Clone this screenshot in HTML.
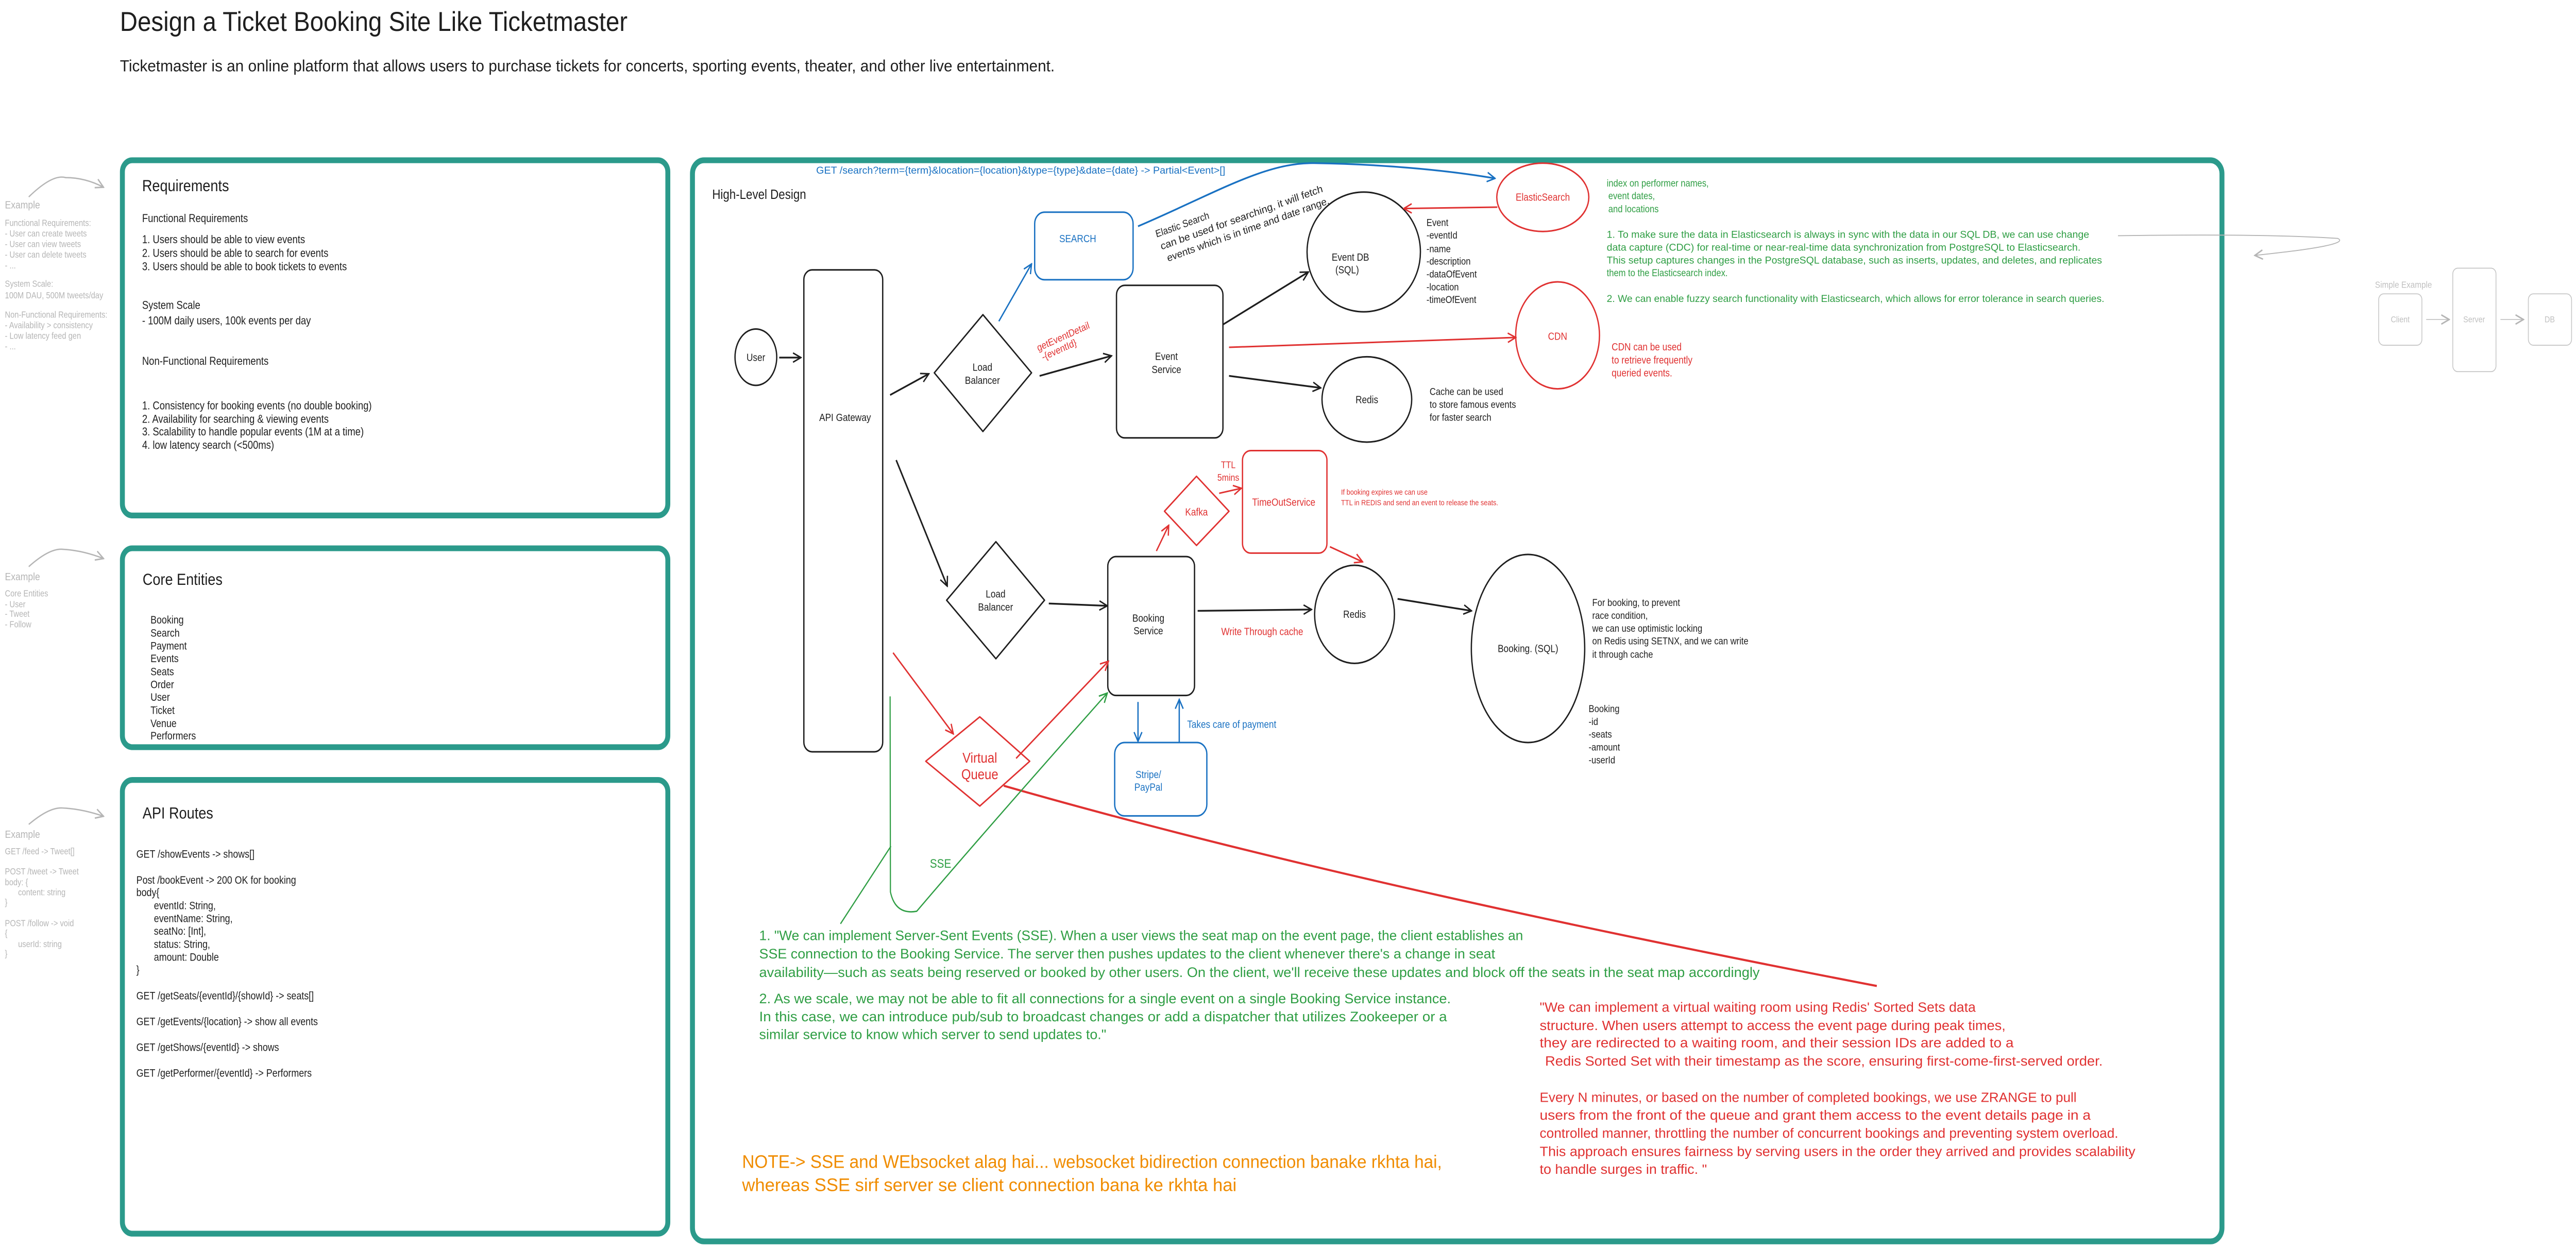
<!DOCTYPE html>
<html><head><meta charset="utf-8"><style>
html,body{margin:0;padding:0;background:#fff;width:100vw;height:100vh;overflow:hidden;}
svg{display:block;position:fixed;left:0;top:0;width:100vw;height:100vh;}
text{font-family:"Liberation Sans",sans-serif;}
</style></head><body>
<svg viewBox="0 0 1568 645.9" preserveAspectRatio="none" xmlns="http://www.w3.org/2000/svg">
<defs>
<marker id="ak" viewBox="0 0 10 10" refX="9" refY="5" markerWidth="6" markerHeight="6" orient="auto" markerUnits="userSpaceOnUse"><path d="M1,1 L9,5 L1,9" fill="none" stroke="#1e1e1e" stroke-width="1.3"/></marker>
<marker id="ar" viewBox="0 0 10 10" refX="9" refY="5" markerWidth="6" markerHeight="6" orient="auto" markerUnits="userSpaceOnUse"><path d="M1,1 L9,5 L1,9" fill="none" stroke="#e03131" stroke-width="1.3"/></marker>
<marker id="ab" viewBox="0 0 10 10" refX="9" refY="5" markerWidth="6" markerHeight="6" orient="auto" markerUnits="userSpaceOnUse"><path d="M1,1 L9,5 L1,9" fill="none" stroke="#1971c2" stroke-width="1.3"/></marker>
<marker id="ag" viewBox="0 0 10 10" refX="9" refY="5" markerWidth="6" markerHeight="6" orient="auto" markerUnits="userSpaceOnUse"><path d="M1,1 L9,5 L1,9" fill="none" stroke="#2f9e44" stroke-width="1.3"/></marker>
<marker id="ay" viewBox="0 0 10 10" refX="9" refY="5" markerWidth="6" markerHeight="6" orient="auto" markerUnits="userSpaceOnUse"><path d="M1,1 L9,5 L1,9" fill="none" stroke="#b5b5b5" stroke-width="1.3"/></marker>
</defs>

<text x="73" y="16" font-size="14" fill="#1e1e1e" textLength="309" lengthAdjust="spacingAndGlyphs">Design a Ticket Booking Site Like Ticketmaster</text>
<text x="73" y="37" font-size="8.5" fill="#1e1e1e" textLength="569" lengthAdjust="spacingAndGlyphs">Ticketmaster is an online platform that allows users to purchase tickets for concerts, sporting events, theater, and other live entertainment.</text>

<g fill="none" stroke="#2b9a8b" stroke-width="3">
<rect x="74.5" y="83" width="332" height="184" rx="6"/>
<rect x="74.5" y="284" width="332" height="103" rx="6"/>
<rect x="74.5" y="404" width="332" height="235" rx="6"/>
<rect x="421.5" y="83" width="931" height="560" rx="7"/>
</g>

<g fill="#b5b5b5" font-size="4.6">
<text x="3" y="108" font-size="5.5">Example</text>
<text x="3" y="117">Functional Requirements:</text>
<text x="3" y="122.5">- User can create tweets</text>
<text x="3" y="128">- User can view tweets</text>
<text x="3" y="133.5">- User can delete tweets</text>
<text x="3" y="139">- ...</text>
<text x="3" y="148.5">System Scale:</text>
<text x="3" y="154.5">100M DAU, 500M tweets/day</text>
<text x="3" y="164.5">Non-Functional Requirements:</text>
<text x="3" y="170">- Availability &gt; consistency</text>
<text x="3" y="175.5">- Low latency feed gen</text>
<text x="3" y="181">- ...</text>
<text x="3" y="300.5" font-size="5.5">Example</text>
<text x="3" y="309">Core Entities</text>
<text x="3" y="314.5">- User</text>
<text x="3" y="319.5">- Tweet</text>
<text x="3" y="325">- Follow</text>
<text x="3" y="434" font-size="5.5">Example</text>
<text x="3" y="442.5">GET /feed -&gt; Tweet[]</text>
<text x="3" y="453">POST /tweet -&gt; Tweet</text>
<text x="3" y="458.5">body: {</text>
<text x="11" y="463.8">content: string</text>
<text x="3" y="469">}</text>
<text x="3" y="479.8">POST /follow -&gt; void</text>
<text x="3" y="485">{</text>
<text x="11" y="490.5">userId: string</text>
<text x="3" y="495.5">}</text>
</g>
<g fill="none" stroke="#b5b5b5" stroke-width="0.7">
<path d="M17.5,102 Q32,90 40,92 Q52,92 63,97" marker-end="url(#ay)"/>
<path d="M17.5,293.5 Q30,284 38,284.5 Q50,285 63,289.3" marker-end="url(#ay)"/>
<path d="M17.5,427 Q30,418 38,418.5 Q50,419 63,422.8" marker-end="url(#ay)"/>
</g>

<g fill="#1e1e1e">
<text x="86.5" y="99" font-size="8.5">Requirements</text>
<text x="86.5" y="115" font-size="5.8">Functional Requirements</text>
<text x="86.5" y="126" font-size="5.8">1. Users should be able to view events</text>
<text x="86.5" y="133" font-size="5.8">2. Users should be able to search for events</text>
<text x="86.5" y="140" font-size="5.8">3. Users should be able to book tickets to events</text>
<text x="86.5" y="160" font-size="5.8">System Scale</text>
<text x="86.5" y="168" font-size="5.8">- 100M daily users, 100k events per day</text>
<text x="86.5" y="189" font-size="5.8">Non-Functional Requirements</text>
<text x="86.5" y="212" font-size="5.8">1. Consistency for booking events (no double booking)</text>
<text x="86.5" y="219" font-size="5.8">2. Availability for searching &amp; viewing events</text>
<text x="86.5" y="225.5" font-size="5.8">3. Scalability to handle popular events (1M at a time)</text>
<text x="86.5" y="232.5" font-size="5.8">4. low latency search (&lt;500ms)</text>
</g>

<g fill="#1e1e1e" font-size="5.6">
<text x="86.8" y="303" font-size="8.5">Core Entities</text>
<text x="91.6" y="323">Booking</text>
<text x="91.6" y="329.8">Search</text>
<text x="91.6" y="336.4">Payment</text>
<text x="91.6" y="343">Events</text>
<text x="91.6" y="349.8">Seats</text>
<text x="91.6" y="356.4">Order</text>
<text x="91.6" y="363">User</text>
<text x="91.6" y="369.8">Ticket</text>
<text x="91.6" y="376.6">Venue</text>
<text x="91.6" y="383">Performers</text>
</g>

<g fill="#1e1e1e" font-size="5.6">
<text x="86.8" y="424" font-size="8.5">API Routes</text>
<text x="83" y="444.3">GET /showEvents -&gt; shows[]</text>
<text x="83" y="457.7">Post /bookEvent -&gt; 200 OK for booking</text>
<text x="83" y="464.2">body{</text>
<text x="93.7" y="471">eventId: String,</text>
<text x="93.7" y="477.6">eventName: String,</text>
<text x="93.7" y="484.2">seatNo: [Int],</text>
<text x="93.7" y="491">status: String,</text>
<text x="93.7" y="497.6">amount: Double</text>
<text x="83" y="504.2">}</text>
<text x="83" y="517.6">GET /getSeats/{eventId}/{showId} -&gt; seats[]</text>
<text x="83" y="531">GET /getEvents/{location} -&gt; show all events</text>
<text x="83" y="544.3">GET /getShows/{eventId} -&gt; shows</text>
<text x="83" y="557.7">GET /getPerformer/{eventId} -&gt; Performers</text>
</g>

<text x="433.5" y="103" font-size="7" fill="#1e1e1e">High-Level Design</text>
<text x="496.8" y="90" font-size="5.3" fill="#1971c2" textLength="249" lengthAdjust="spacingAndGlyphs">GET /search?term={term}&amp;location={location}&amp;type={type}&amp;date={date} -&gt; Partial&lt;Event&gt;[]</text>

<g fill="none" stroke="#1e1e1e" stroke-width="0.8">
<ellipse cx="460.1" cy="185" rx="12.7" ry="14.6"/>
<rect x="489.3" y="139.8" width="48" height="249.6" rx="5"/>
<polygon points="598.3,163 627.9,193.1 598.3,223.5 568.7,193.1" stroke-linejoin="round"/>
<rect x="679.6" y="147.8" width="64.8" height="79" rx="5"/>
<ellipse cx="830.1" cy="130.5" rx="34.5" ry="31"/>
<ellipse cx="832" cy="206.9" rx="27.3" ry="22.1"/>
<polygon points="606.2,280.6 635.8,310.9 606.2,341.2 576.2,310.9" stroke-linejoin="round"/>
<rect x="674.3" y="288.3" width="52.8" height="71.9" rx="5"/>
<ellipse cx="824.5" cy="318.2" rx="24.3" ry="25.4"/>
<ellipse cx="930.1" cy="335.9" rx="34.5" ry="48.7"/>
</g>
<g fill="none" stroke="#1e1e1e" stroke-width="0.9">
<line x1="474.3" y1="185.2" x2="487.5" y2="185.2" marker-end="url(#ak)"/>
<line x1="541.8" y1="204.6" x2="565.4" y2="193.6" marker-end="url(#ak)"/>
<line x1="632.8" y1="194.7" x2="676.6" y2="184.3" marker-end="url(#ak)"/>
<line x1="744.4" y1="168.1" x2="796.4" y2="140.9" marker-end="url(#ak)"/>
<line x1="748.1" y1="194.7" x2="803.9" y2="200.9" marker-end="url(#ak)"/>
<line x1="545.5" y1="238.3" x2="576.6" y2="303.6" marker-end="url(#ak)"/>
<line x1="638.4" y1="312.6" x2="674" y2="313.8" marker-end="url(#ak)"/>
<line x1="729" y1="316.4" x2="798.3" y2="315.7" marker-end="url(#ak)"/>
<line x1="850.7" y1="310.2" x2="895.7" y2="316.4" marker-end="url(#ak)"/>
</g>

<g fill="none" stroke="#1971c2" stroke-width="0.8">
<rect x="629.8" y="109.9" width="59.9" height="35" rx="6"/>
<rect x="678.5" y="384.6" width="56.1" height="38" rx="6"/>
<line x1="608" y1="166.4" x2="627.9" y2="136.7" marker-end="url(#ab)"/>
<path d="M692.7,117.2 C740,100 770,84 800,84.5 C840,85 880,88 910,92.4" stroke-width="0.9" marker-end="url(#ab)"/>
<line x1="692.7" y1="363.6" x2="692.7" y2="384" marker-end="url(#ab)"/>
<line x1="717.8" y1="384.6" x2="717.8" y2="362.3" marker-end="url(#ab)"/>
</g>
<g fill="#1971c2" font-size="5.4" text-anchor="middle">
<text x="656" y="125.5">SEARCH</text>
<text x="699" y="403">Stripe/</text>
<text x="699" y="409.6">PayPal</text>
<text x="722.6" y="377" text-anchor="start">Takes care of payment</text>
</g>

<g fill="none" stroke="#e03131" stroke-width="0.8">
<ellipse cx="939.1" cy="102.2" rx="28" ry="17.7"/>
<ellipse cx="948.1" cy="173.7" rx="25.5" ry="27.7"/>
<polygon points="728.3,246.7 748.1,264.8 728.3,282.5 708.8,264.8" stroke-linejoin="round"/>
<rect x="756.3" y="233.4" width="51.4" height="53.1" rx="5"/>
<polygon points="596.4,371.3 626.8,394.3 596.4,417.5 563.5,394.3" stroke-linejoin="round"/>
<line x1="911.4" y1="107.3" x2="854.5" y2="108" marker-end="url(#ar)"/>
<line x1="748.1" y1="179.9" x2="922.6" y2="174.8" marker-end="url(#ar)"/>
<line x1="703.9" y1="285.4" x2="711.4" y2="272.1" marker-end="url(#ar)"/>
<line x1="742.1" y1="255.5" x2="755.6" y2="252.9" marker-end="url(#ar)"/>
<line x1="809.5" y1="283.2" x2="829.4" y2="291" marker-end="url(#ar)"/>
<line x1="543.6" y1="338.1" x2="580.3" y2="380.1" marker-end="url(#ar)"/>
<line x1="618.5" y1="392.8" x2="674.7" y2="342.5" marker-end="url(#ar)"/>
<path d="M611,407 Q820,458 1142.4,510.7" stroke-width="1.1"/>
</g>
<g fill="#e03131" font-size="5.4" text-anchor="middle">
<text x="939.1" y="104">ElasticSearch</text>
<text x="948.1" y="176">CDN</text>
<text x="728.3" y="267">Kafka</text>
<text x="781.4" y="262">TimeOutService</text>
<text x="768.3" y="329">Write Through cache</text>
<text x="596.4" y="395" font-size="7.5">Virtual</text>
<text x="596.4" y="403.5" font-size="7.5">Queue</text>
<text x="743.2" y="242.5" text-anchor="start" font-size="5">TTL</text>
<text x="741" y="249" text-anchor="start" font-size="5">5mins</text>
<text x="816.3" y="256.2" text-anchor="start" font-size="4">If booking expires we can use</text>
<text x="816.3" y="261.7" text-anchor="start" font-size="4">TTL in REDIS and send an event to release the seats.</text>
<text x="981" y="181.5" text-anchor="start" font-size="5.4">CDN can be used</text>
<text x="981" y="188.3" text-anchor="start" font-size="5.4">to retrieve frequently</text>
<text x="981" y="195" text-anchor="start" font-size="5.4">queried events.</text>
<g transform="translate(632,182) rotate(-21)"><text x="0" y="0" text-anchor="start" font-size="5.2">getEventDetail</text><text x="1" y="5.5" text-anchor="start" font-size="5.2">-{eventId}</text></g>
</g>

<g fill="#1e1e1e" font-size="5.4" text-anchor="middle">
<text x="460.1" y="187">User</text>
<text x="514.4" y="218">API Gateway</text>
<text x="598" y="192">Load</text>
<text x="598" y="198.8">Balancer</text>
<text x="606" y="309.5">Load</text>
<text x="606" y="316.3">Balancer</text>
<text x="710" y="186.5">Event</text>
<text x="710" y="193.2">Service</text>
<text x="699" y="322">Booking</text>
<text x="699" y="328.6">Service</text>
<text x="822" y="135">Event DB</text>
<text x="820" y="141.6">(SQL)</text>
<text x="832" y="208.8">Redis</text>
<text x="824.5" y="320">Redis</text>
<text x="930.1" y="337.8">Booking. (SQL)</text>
</g>
<g fill="#1e1e1e" font-size="5.2">
<text x="868.3" y="117">Event</text>
<text x="868.3" y="123.6">-eventId</text>
<text x="868.3" y="130.7">-name</text>
<text x="868.3" y="137.1">-description</text>
<text x="868.3" y="143.7">-dataOfEvent</text>
<text x="868.3" y="150.4">-location</text>
<text x="868.3" y="157">-timeOfEvent</text>
<text x="870.2" y="204.6">Cache can be used</text>
<text x="870.2" y="211.2">to store famous events</text>
<text x="870.2" y="217.9">for faster search</text>
<text x="969.2" y="313.9">For booking, to prevent</text>
<text x="969.2" y="320.6">race condition,</text>
<text x="969.2" y="327.2">we can use optimistic locking</text>
<text x="969.2" y="333.8">on Redis using SETNX, and we can write</text>
<text x="969.2" y="340.7">it through cache</text>
<text x="967" y="368.8">Booking</text>
<text x="967" y="375.5">-id</text>
<text x="967" y="382.1">-seats</text>
<text x="967" y="388.7">-amount</text>
<text x="967" y="395.4">-userId</text>
<g transform="translate(704,123) rotate(-17)" font-size="5.3">
<text x="0" y="0">Elastic Search</text>
<text x="1" y="7" textLength="103" lengthAdjust="spacingAndGlyphs">can be used for searching, it will fetch</text>
<text x="3" y="14" textLength="103" lengthAdjust="spacingAndGlyphs">events which is in time and date range.</text>
</g>
</g>

<g fill="none" stroke="#2f9e44" stroke-width="0.7">
<path d="M541.8,360.7 L542,462 Q545,474 558,472 Q600,430 674,359" marker-end="url(#ag)"/>
<line x1="542.3" y1="438.3" x2="511.6" y2="478.5"/>
</g>
<g fill="#2f9e44" font-size="5.2">
<text x="566" y="449.5" font-size="6.5">SSE</text>
<text x="978" y="96.6">index on performer names,</text>
<text x="979" y="103.2"> event dates,</text>
<text x="979" y="109.9"> and locations</text>
<text x="978" y="123.2" textLength="293.7" lengthAdjust="spacingAndGlyphs">1. To make sure the data in Elasticsearch is always in sync with the data in our SQL DB, we can use change</text>
<text x="978" y="129.8" textLength="288.4" lengthAdjust="spacingAndGlyphs">data capture (CDC) for real-time or near-real-time data synchronization from PostgreSQL to Elasticsearch.</text>
<text x="978" y="136.5" textLength="301.5" lengthAdjust="spacingAndGlyphs">This setup captures changes in the PostgreSQL database, such as inserts, updates, and deletes, and replicates</text>
<text x="978" y="143.1">them to the Elasticsearch index.</text>
<text x="978" y="156.4" textLength="302.9" lengthAdjust="spacingAndGlyphs">2. We can enable fuzzy search functionality with Elasticsearch, which allows for error tolerance in search queries.</text>
</g>
<g fill="#2f9e44" font-size="7.2">
<text x="462.1" y="487" textLength="465" lengthAdjust="spacingAndGlyphs">1. "We can implement Server-Sent Events (SSE). When a user views the seat map on the event page, the client establishes an</text>
<text x="462.1" y="496.5" textLength="448" lengthAdjust="spacingAndGlyphs">SSE connection to the Booking Service. The server then pushes updates to the client whenever there's a change in seat</text>
<text x="462.1" y="506" textLength="609" lengthAdjust="spacingAndGlyphs">availability—such as seats being reserved or booked by other users. On the client, we'll receive these updates and block off the seats in the seat map accordingly</text>
<text x="462.1" y="519.7" textLength="421" lengthAdjust="spacingAndGlyphs">2. As we scale, we may not be able to fit all connections for a single event on a single Booking Service instance.</text>
<text x="462.1" y="529" textLength="418.7" lengthAdjust="spacingAndGlyphs">In this case, we can introduce pub/sub to broadcast changes or add a dispatcher that utilizes Zookeeper or a</text>
<text x="462.1" y="538.2" textLength="211.3" lengthAdjust="spacingAndGlyphs">similar service to know which server to send updates to."</text>
</g>

<g fill="#f08c00" font-size="9.5">
<text x="451.7" y="605" textLength="426" lengthAdjust="spacingAndGlyphs">NOTE-&gt; SSE and WEbsocket alag hai... websocket bidirection connection banake rkhta hai,</text>
<text x="451.7" y="617" textLength="301" lengthAdjust="spacingAndGlyphs">whereas SSE sirf server se client connection bana ke rkhta hai</text>
</g>

<g fill="#e03131" font-size="7">
<text x="937.2" y="524" textLength="265.4" lengthAdjust="spacingAndGlyphs">"We can implement a virtual waiting room using Redis' Sorted Sets data</text>
<text x="937.2" y="533.5" textLength="283.6" lengthAdjust="spacingAndGlyphs">structure. When users attempt to access the event page during peak times,</text>
<text x="937.2" y="542.5" textLength="288.5" lengthAdjust="spacingAndGlyphs">they are redirected to a waiting room, and their session IDs are added to a</text>
<text x="940.5" y="552" textLength="339.4" lengthAdjust="spacingAndGlyphs">Redis Sorted Set with their timestamp as the score, ensuring first-come-first-served order.</text>
<text x="937.2" y="570.8" textLength="326.8" lengthAdjust="spacingAndGlyphs">Every N minutes, or based on the number of completed bookings, we use ZRANGE to pull</text>
<text x="937.2" y="580" textLength="335.4" lengthAdjust="spacingAndGlyphs">users from the front of the queue and grant them access to the event details page in a</text>
<text x="937.2" y="589.3" textLength="352.2" lengthAdjust="spacingAndGlyphs">controlled manner, throttling the number of concurrent bookings and preventing system overload.</text>
<text x="937.2" y="598.8" textLength="362.6" lengthAdjust="spacingAndGlyphs">This approach ensures fairness by serving users in the order they arrived and provides scalability</text>
<text x="937.2" y="608" textLength="101.8" lengthAdjust="spacingAndGlyphs">to handle surges in traffic. "</text>
</g>

<path d="M1289.2,122.1 Q1380,121 1423,123.5 Q1432,127 1372.5,132.3" fill="none" stroke="#b5b5b5" stroke-width="0.5" marker-end="url(#ay)"/>
<g fill="none" stroke="#c8c8c8" stroke-width="0.5">
<rect x="1447.9" y="152.2" width="26.3" height="26.6" rx="3"/>
<rect x="1493" y="138.9" width="26.3" height="53.6" rx="3"/>
<rect x="1539" y="152.2" width="26.3" height="26.6" rx="3"/>
<line x1="1476.8" y1="165.5" x2="1490.8" y2="165.5" marker-end="url(#ay)"/>
<line x1="1522" y1="165.5" x2="1536" y2="165.5" marker-end="url(#ay)"/>
</g>
<g fill="#c0c0c0" font-size="4.5" text-anchor="middle">
<text x="1463" y="149" font-size="4.8">Simple Example</text>
<text x="1461" y="167">Client</text>
<text x="1506" y="167">Server</text>
<text x="1552" y="167">DB</text>
</g>
</svg>
</body></html>
